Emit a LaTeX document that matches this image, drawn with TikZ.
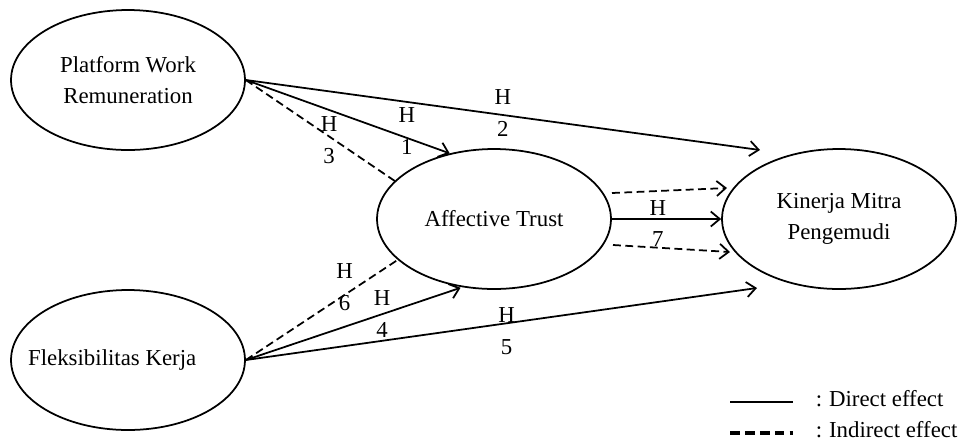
\documentclass[tikz,border=0pt]{standalone}
\usepackage{fontspec}
\setmainfont{Liberation Serif}
\usetikzlibrary{%
  arrows.meta,%
  shapes.geometric,% wg. ellipse
  positioning%
}
\begin{document}
\begin{tikzpicture}
    [   x=0.02cm, y=-0.02cm
    ,   >={Straight Barb[length=1.8mm,width=3mm]}
    ,   line width=1pt
    ,   font=\fontsize{13}{18}\selectfont
    ,   construct/.style=
            {   % The shape:
                ellipse
            ,   minimum width=4.68cm
            ,   minimum height=2.8cm
            ,   % The rest
                draw
            ,   align=center
            }
    ,   indirect/.style={dash pattern=on 4.5pt off 2.5pt}
    ,   hyp/.style={align=center, inner sep=0pt}
    ,   legend/.style={anchor=west, inner sep=0pt}
    ]

    \useasboundingbox (0,0) rectangle (968,441);

    \node[construct](PWR) at (128,80)  {Platform Work\\Remuneration};
    \node[construct](FK)  at (128,360) {\hspace*{-18pt}Fleksibilitas Kerja};
    \node[construct](AT)  at (494,219) {Affective Trust};
    \node[construct](KMP) at (839,219) {Kinerja Mitra\\Pengemudi};

    % free tips
    \coordinate (H2tip) at (760,150);
    \coordinate (H5tip) at (757,288);
    \coordinate (ATup)  at (612,193);
    \coordinate (KMPup) at (727,188);
    \coordinate (ATdn)  at (613,245);
    \coordinate (KMPdn) at (730,252);

    \draw[->](PWR.east)--(AT.124) node[hyp,pos=.79,yshift=4pt]{H\\1};
    \draw[->](PWR.east)--(H2tip) node[hyp,midway,yshift=1pt]{H\\2};
    \draw[indirect](PWR.east)--(AT.159) node[hyp,pos=.56,yshift=-2pt]{H\\3};
    \draw[->,shorten >=1pt](FK.east)--(AT.245) node[hyp,pos=.63]{H\\4};
    \draw[->](FK.east)--(H5tip) node[hyp,pos=.51,yshift=-4.5pt]{H\\5};
    \draw[indirect](FK.east)--(AT.203) node[hyp,pos=.65,yshift=4.5pt]{H\\6};
    \draw[->](AT.east)--(KMP.west) node[hyp,pos=.42,yshift=-2.5pt]{H\\7};
    \draw[->,indirect](ATup)--(KMPup);
    \draw[->,indirect](ATdn)--(KMPdn);

    % legend
    \node[legend](direct)   at (815,399) {:\hspace{.3em}Direct effect};
    \node[legend](indirect) at (815,430) {:\hspace{.3em}Indirect effect};
    \coordinate (dirA) at (730,402);
    \coordinate (dirB) at (793,402);
    \coordinate (indA) at (730,433);
    \coordinate (indB) at (793,433);
    \draw[line width=1.3pt](dirA)--(dirB);
    \draw[line width=1.8pt,dash pattern=on 5.5pt off 3pt](indA)--(indB);
\end{tikzpicture}
\end{document}
